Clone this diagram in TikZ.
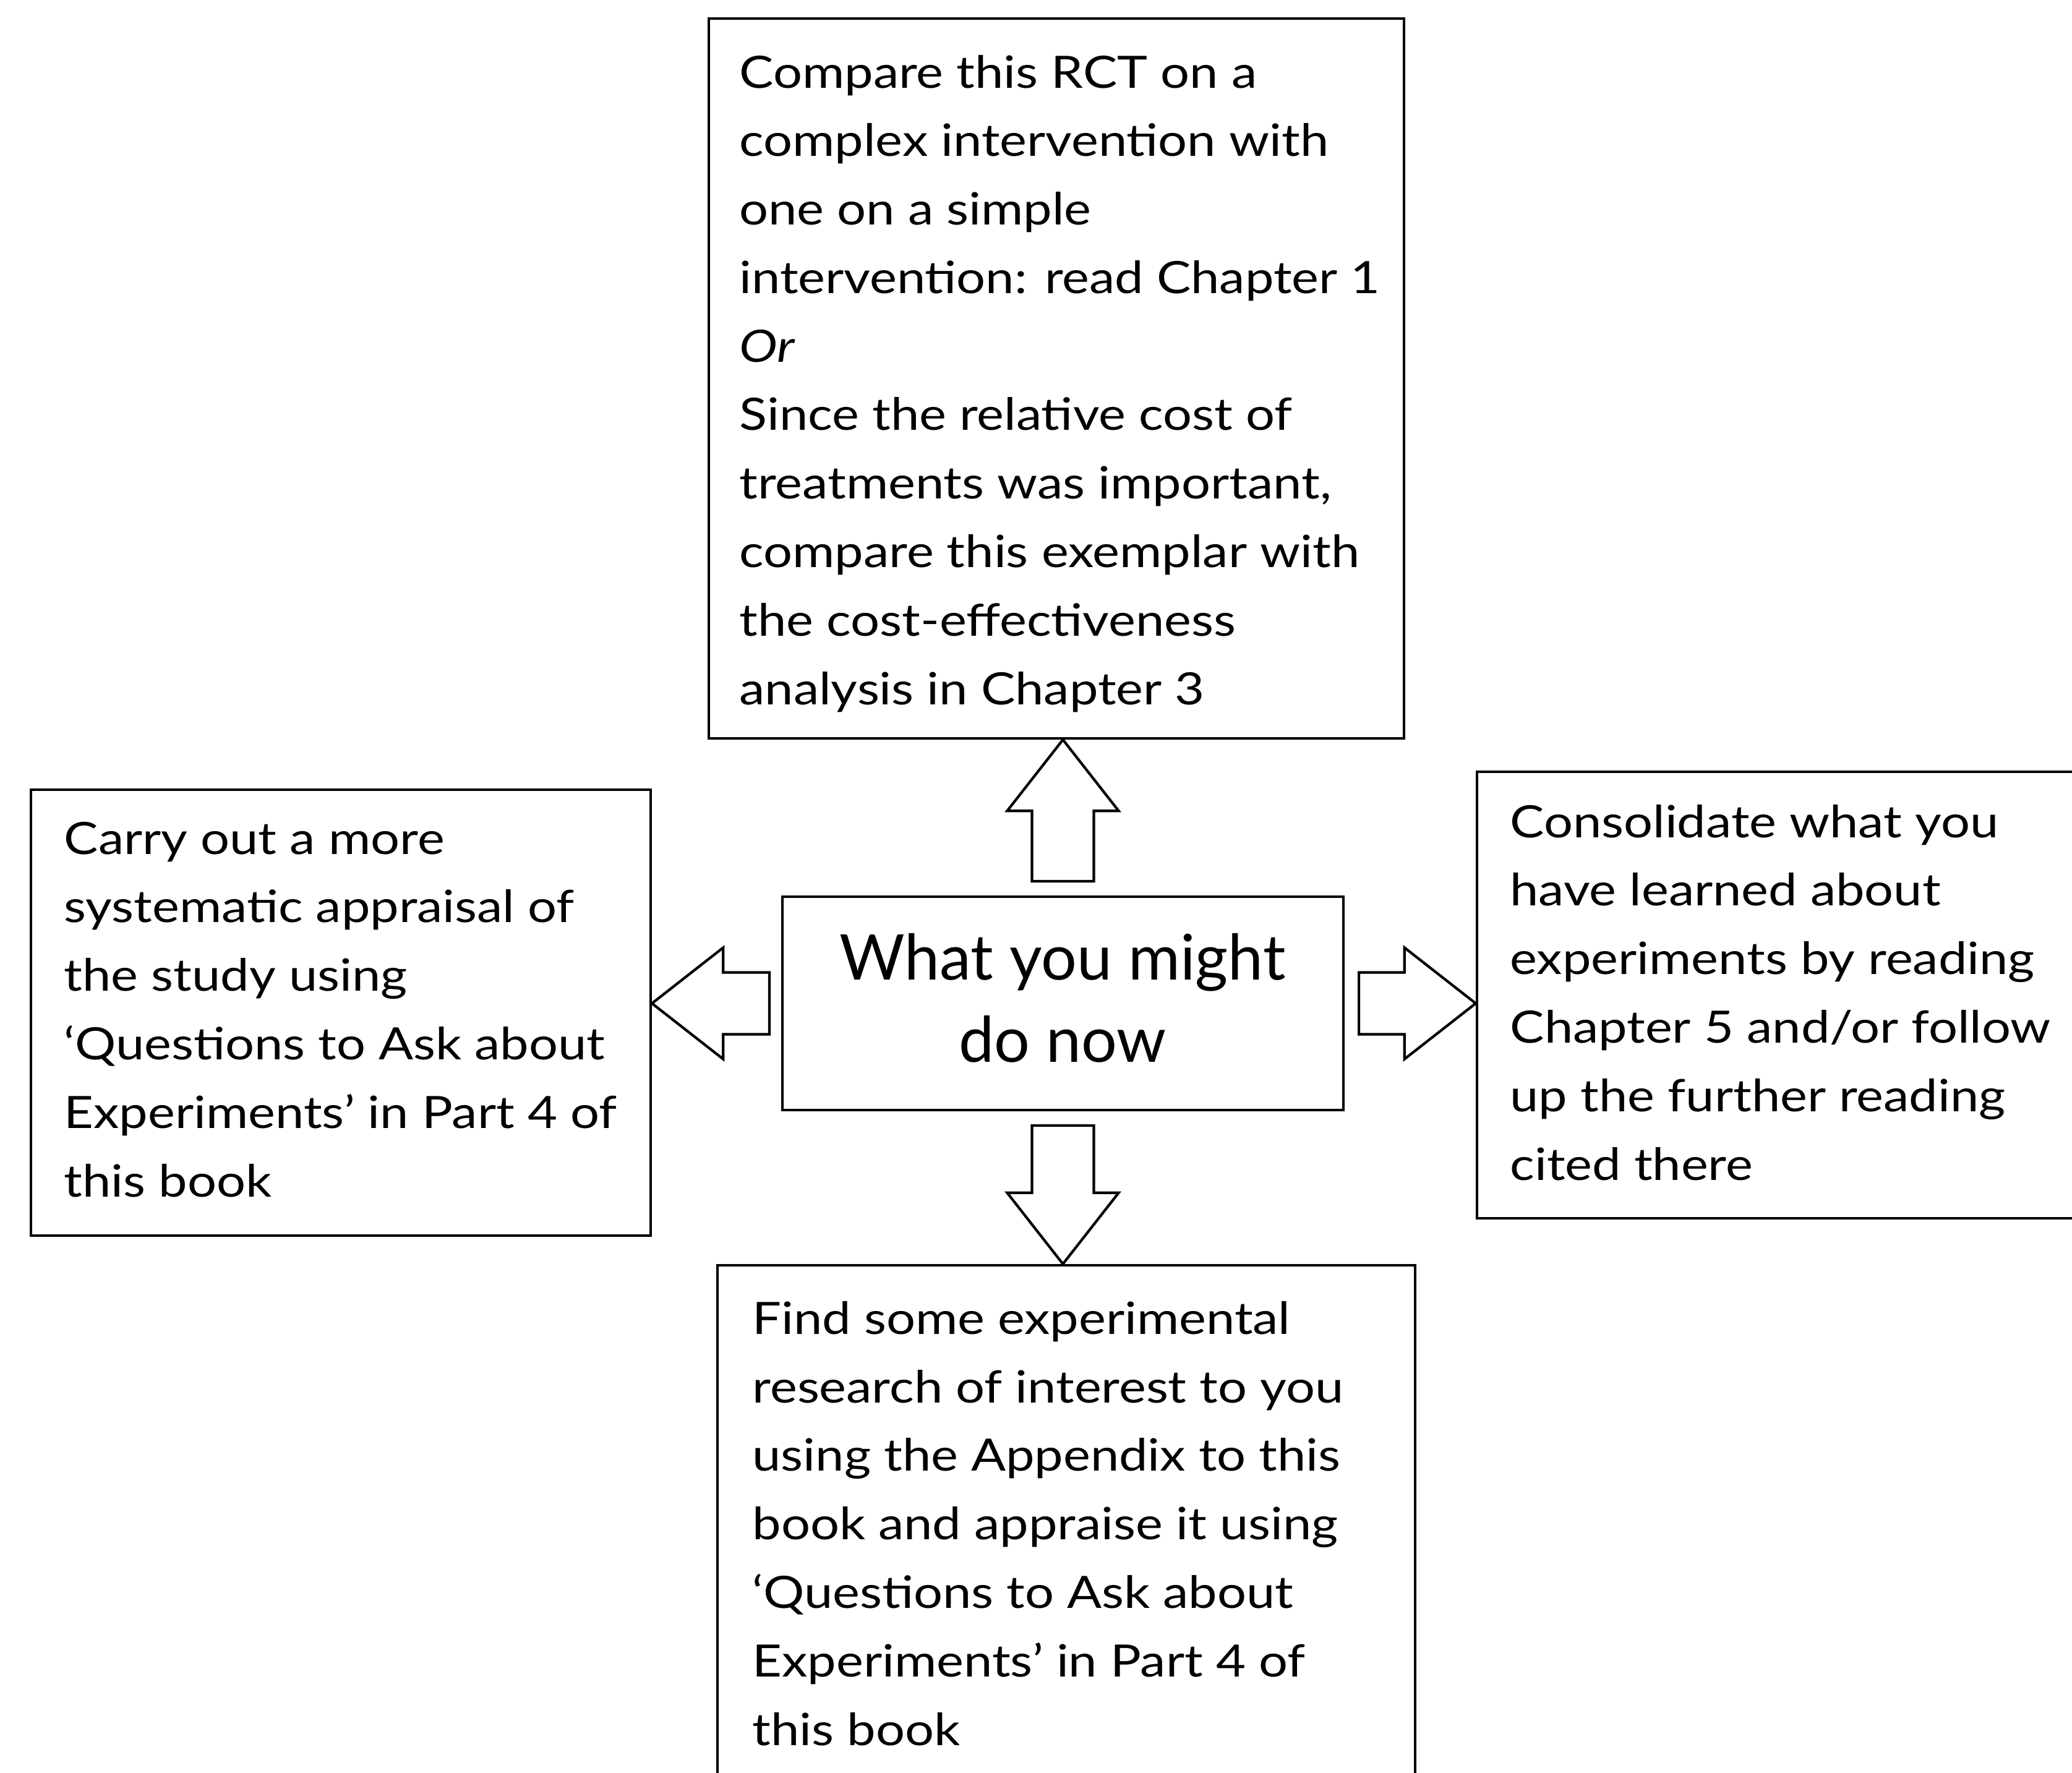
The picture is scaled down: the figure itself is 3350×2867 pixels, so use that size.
\documentclass[tikz,border=0pt]{standalone}
\usepackage{fontspec}
\setmainfont{Lato}[FakeStretch=1.15]
\newfontfamily\hubfont{Lato}
\usetikzlibrary{calc,fit}
\newcommand\blockarrow[3]{% start, tip, id
  \coordinate (#3h) at ($(#2)!1.15cm!(#1)$);
  \draw[blk] ($(#1)!0.5cm!90:(#2)$) -- ($(#3h)!0.5cm!90:(#2)$) -- ($(#3h)!0.9cm!90:(#2)$) -- (#2)
    -- ($(#3h)!0.9cm!-90:(#2)$) -- ($(#3h)!0.5cm!-90:(#2)$) -- ($(#1)!0.5cm!-90:(#2)$) -- cycle;}
\begin{document}
\begin{tikzpicture}[x=0.01cm,y=-0.01cm,
  box/.style={draw,line width=1.2pt,inner sep=0pt},
  txt/.style={anchor=base west,align=left,inner sep=0pt,font=\fontsize{20.5}{31.5}\selectfont},
  blk/.style={draw,line width=1.2pt,fill=white,line join=miter}]
\useasboundingbox (0,0) rectangle (3350,2867);
\clip (0,0) rectangle (3350,2867);
\node[box,fit={(1146,30) (2270,1194)}] (top) {};
\node[box,fit={(50,1277) (1052,1998)}] (left) {};
\node[box,fit={(1265,1450) (2172,1795)}] (hub) {};
\node[box,fit={(2388,1248) (3420,1970)}] (right) {};
\node[box,fit={(1160,2046) (2288,2960)}] (bottom) {};

% anchors are at the baseline of the last line
\node[txt] (toptext) at (1195,1139) {Compare this RCT on a\\ complex intervention with\\ one on a simple\\ intervention: read Chapter 1\\ \textit{Or}\\ Since the relative cost of\\ treatments was important,\\ compare this exemplar with\\ the cost-effectiveness\\ analysis in Chapter 3};
\node[txt] (lefttext) at (103,1935) {Carry out a more\\ systematic appraisal of\\ the study using\\ ‘Questions to Ask about\\ Experiments’ in Part 4 of\\ this book};
\node[txt] (righttext) at (2441,1908) {Consolidate what you\\ have learned about\\ experiments by reading\\ Chapter 5 and/or follow\\ up the further reading\\ cited there};
\node[txt] (bottomtext) at (1216,2822) {Find some experimental\\ research of interest to you\\ using the Appendix to this\\ book and appraise it using\\ ‘Questions to Ask about\\ Experiments’ in Part 4 of\\ this book};
\node[anchor=base,align=center,inner sep=0pt,font=\hubfont\fontsize{29}{37.6}\selectfont] (hubtext) at (1718,1717) {What you might\\ do now};

\coordinate (us) at ($(hub.north)+(0,-23)$);
\coordinate (ut) at (hub.north |- top.south);
\coordinate (ds) at ($(hub.south)+(0,23)$);
\coordinate (dt) at (hub.south |- bottom.north);
\coordinate (ls) at ($(hub.west)+(-19,0)$);
\coordinate (lt) at (left.east |- hub.west);
\coordinate (rs) at ($(hub.east)+(23,0)$);
\coordinate (rt) at (right.west |- hub.east);
\blockarrow{us}{ut}{ua}
\blockarrow{ds}{dt}{da}
\blockarrow{ls}{lt}{la}
\blockarrow{rs}{rt}{ra}
\end{tikzpicture}
\end{document}
